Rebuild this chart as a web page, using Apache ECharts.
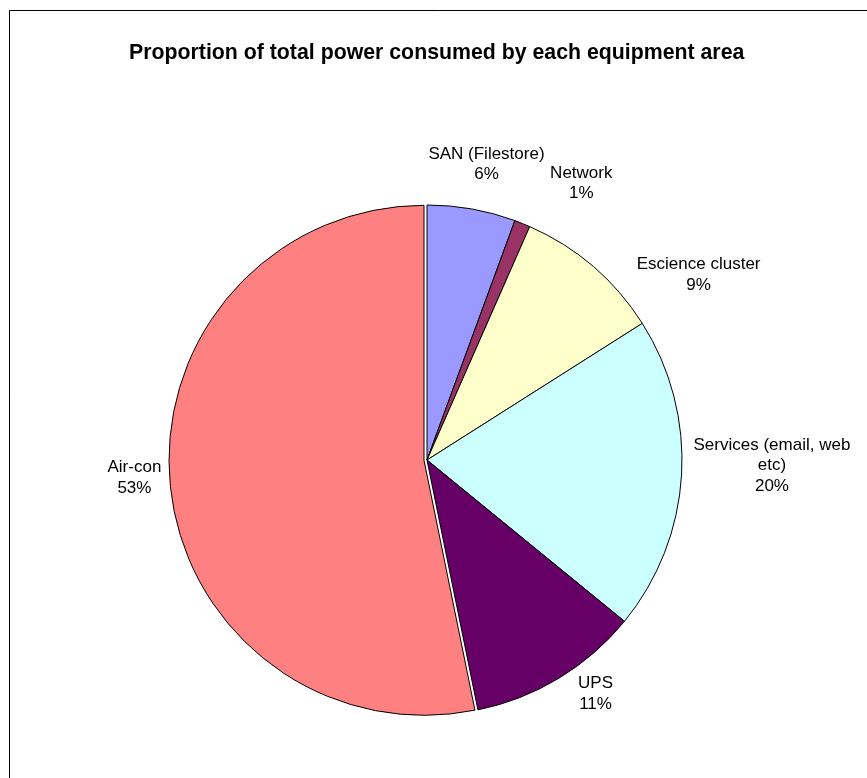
<!DOCTYPE html>
<html><head><meta charset="utf-8">
<script src="https://cdn.jsdelivr.net/npm/echarts@6/dist/echarts.min.js"></script>
<style>html,body{margin:0;padding:0;background:#fff}#c{width:867px;height:778px}</style>
</head><body><div id="c"></div>
<script>
const titleText = 'Proportion of total power consumed by each equipment area';
const categories = ['SAN (Filestore)', 'Network', 'Escience cluster', 'Services (email, web etc)', 'UPS', 'Air-con'];
const labelNames = ['SAN (Filestore)', 'Network', 'Escience cluster', 'Services (email, web\netc)', 'UPS', 'Air-con'];
const values = [5.6, 1.0, 9.4, 19.9, 10.9, 53.2];
const colors = ['#9999FF', '#993366', '#FFFFCC', '#CCFFFF', '#660066', '#FF8080'];
// small label nudges (px) to mimic the original spreadsheet's label placement
const labelNudge = [[-50, -35], [19, -31], [32, 16], [-3, -10], [9, 7], [3, -9]];
const explodedName = 'Air-con';

const chart = echarts.init(document.getElementById('c'), null, {renderer: 'canvas'});
const hidden = {color: 'transparent', borderWidth: 0};
// series A: every slice except the exploded one, plus all labels
const dataA = categories.map((c, i) => ({
  name: c, value: values[i],
  itemStyle: c === explodedName ? hidden : {color: colors[i]}
}));
// series B: only the exploded slice, pulled out from the centre
const dataB = categories.map((c, i) => ({
  name: c, value: values[i],
  itemStyle: c === explodedName ? {color: colors[i]} : hidden,
  selected: c === explodedName
}));
const pieBase = {
  type: 'pie',
  center: [427, 460],
  radius: 255,
  startAngle: 90,
  clockwise: true,
  silent: true,
  avoidLabelOverlap: false,
  emphasis: {disabled: true},
  itemStyle: {borderColor: '#000', borderWidth: 1}
};
chart.setOption({
  animation: false,
  backgroundColor: '#fff',
  title: {
    text: titleText, left: 124, top: 38,
    textStyle: {fontFamily: 'Liberation Sans, Arial, sans-serif', fontWeight: 'bold', fontSize: 21.3, color: '#000'}
  },
  graphic: [{
    type: 'rect', silent: true,
    shape: {x: 9.5, y: 10.5, width: 900, height: 800},
    style: {fill: 'none', stroke: '#000', lineWidth: 1}
  }],
  series: [
    Object.assign({}, pieBase, {
      name: 'exploded',
      selectedMode: 'multiple',
      selectedOffset: 3,
      label: {show: false},
      labelLine: {show: false},
      data: dataB
    }),
    Object.assign({}, pieBase, {
      name: 'slices',
      selectedMode: false,
      label: {
        show: true, position: 'outside',
        fontFamily: 'Liberation Sans, Arial, sans-serif', fontSize: 17, lineHeight: 20.5, color: '#000',
        formatter: p => labelNames[p.dataIndex] + '\n' + Math.round(p.percent) + '%'
      },
      labelLine: {show: false, length: 10, length2: 0},
      labelLayout: p => ({
        x: p.labelRect.x + p.labelRect.width / 2 + labelNudge[p.dataIndex][0],
        y: p.labelRect.y + p.labelRect.height / 2 + labelNudge[p.dataIndex][1],
        align: 'center', verticalAlign: 'middle'
      }),
      data: dataA
    })
  ]
});
</script></body></html>
